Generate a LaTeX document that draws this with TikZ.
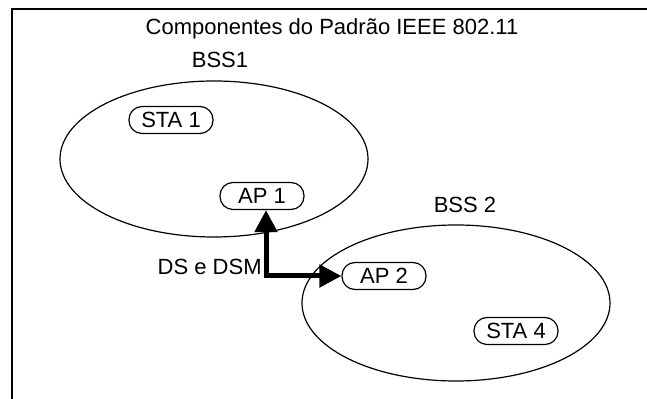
\documentclass[tikz,border=0pt]{standalone}
\usepackage{fontspec}
\setmainfont{Liberation Sans}
\usetikzlibrary{arrows.meta,shapes.geometric}

\begin{document}
\begin{tikzpicture}[x=0.5pt, y=-0.5pt]
        \tikzstyle{every node}=[font=\fontsize{11}{13}\selectfont, inner sep=0pt]
        \tikzstyle{bss}=[draw, ellipse, line width=0.6pt, minimum width=154pt, minimum height=78pt]
        \tikzstyle{sta}=[draw, fill=white, line width=0.6pt, rounded corners=6.5pt, minimum width=42pt, minimum height=13.5pt]
        \tikzstyle{dslink}=[line width=2.5pt, {Triangle[length=11pt,width=11pt]}-{Triangle[length=11pt,width=11pt]}]
        \useasboundingbox (0,0) rectangle (647,399);
        \draw[line width=1pt] (12,402) -- (12,9) -- (650,9);
        \node (title) at (332,29) {Componentes do Padrão IEEE 802.11};
        \node (bss1) at (220,60) {BSS1};
        \node (bss2) at (465,205) {BSS 2};
        \node[bss] (area1) at (214,159) {};
        \node[bss] (area2) at (456,303) {};
        \node[sta] (sta1) at (171,120) {STA 1};
        \node[sta] (ap1) at (262,196) {AP 1};
        \node[sta] (ap2) at (384,276) {AP 2};
        \node[sta] (sta4) at (516,331) {STA 4};
        \draw[dslink] ([xshift=2pt]ap1.south) |- (ap2.west);
        \node[anchor=east] (ds) at (262,267) {DS e DSM};
    \end{tikzpicture}
\end{document}
